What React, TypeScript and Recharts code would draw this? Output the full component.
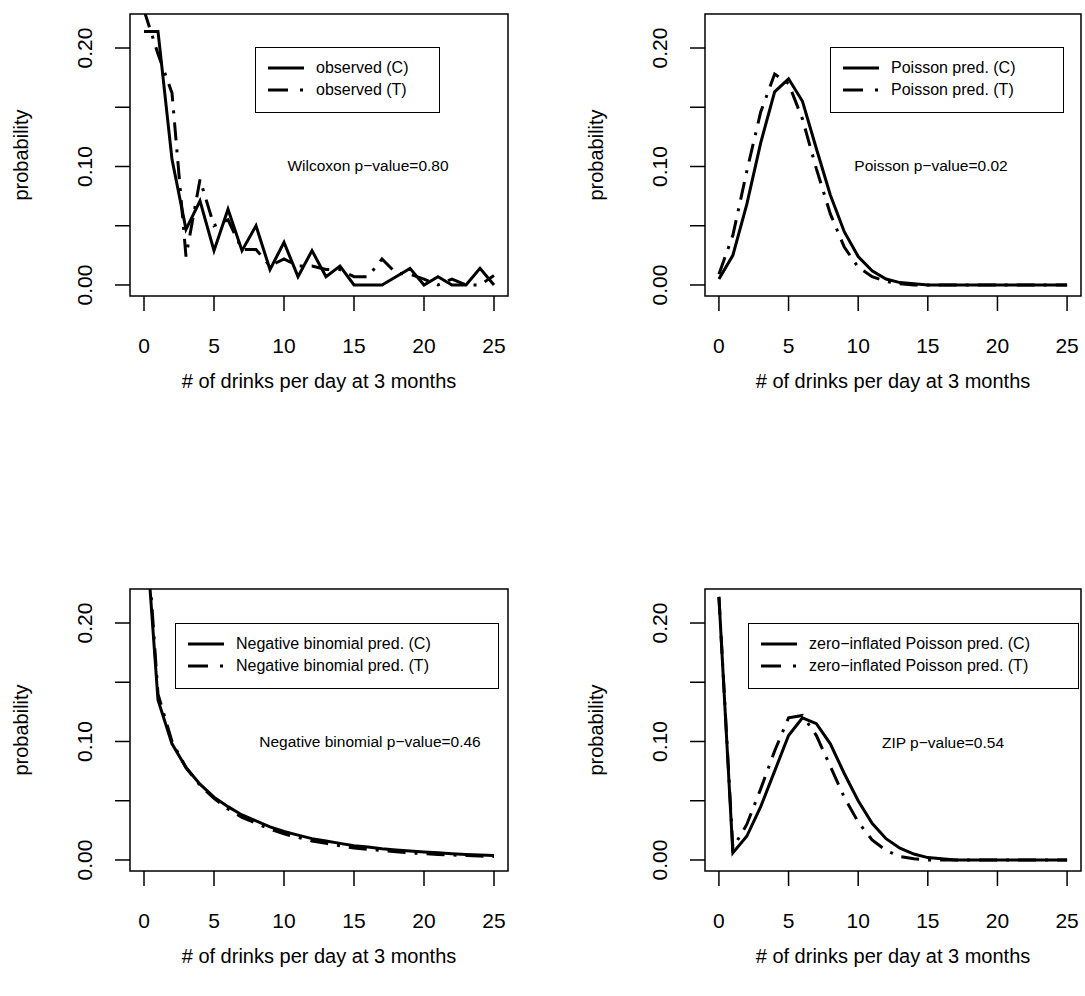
import { LineChart, Line, XAxis, YAxis, ReferenceArea } from 'recharts';

const drinks = [0, 1, 2, 3, 4, 5, 6, 7, 8, 9, 10, 11, 12, 13, 14, 15, 16, 17, 18, 19, 20, 21, 22, 23, 24, 25];

const observedC = [0.214, 0.214, 0.106, 0.047, 0.071, 0.029, 0.064, 0.029, 0.05, 0.013, 0.036, 0.007, 0.029, 0.007, 0.016, 0, 0, 0, 0.007, 0.014, 0, 0.007, 0, 0, 0.014, 0];
const observedT = [0.232, 0.195, 0.162, 0.024, 0.089, 0.05, 0.055, 0.03, 0.03, 0.016, 0.022, 0.016, 0.016, 0.013, 0.013, 0.007, 0.007, 0.022, 0.01, 0.009, 0.005, 0, 0.005, 0, 0, 0.008];

const poissonC = [0.005, 0.025, 0.068, 0.12, 0.163, 0.174, 0.155, 0.115, 0.076, 0.045, 0.024, 0.012, 0.005, 0.002, 0.001, 0, 0, 0, 0, 0, 0, 0, 0, 0, 0, 0];
const poissonT = [0.009, 0.042, 0.096, 0.146, 0.178, 0.17, 0.14, 0.098, 0.06, 0.032, 0.015, 0.007, 0.003, 0.001, 0, 0, 0, 0, 0, 0, 0, 0, 0, 0, 0, 0];

const negbinC = [0.3, 0.135, 0.098, 0.078, 0.064, 0.053, 0.045, 0.038, 0.033, 0.028, 0.024, 0.021, 0.018, 0.016, 0.014, 0.012, 0.011, 0.0095, 0.0085, 0.0075, 0.0067, 0.006, 0.0053, 0.0047, 0.0042, 0.0037];
const negbinT = [0.31, 0.14, 0.1, 0.078, 0.063, 0.052, 0.043, 0.036, 0.031, 0.026, 0.022, 0.019, 0.016, 0.014, 0.012, 0.01, 0.009, 0.008, 0.007, 0.006, 0.0053, 0.0047, 0.0042, 0.0037, 0.0033, 0.003];

const zipC = [0.222, 0.006, 0.02, 0.045, 0.075, 0.105, 0.12, 0.115, 0.098, 0.073, 0.05, 0.031, 0.018, 0.01, 0.005, 0.002, 0.001, 0, 0, 0, 0, 0, 0, 0, 0, 0];
const zipT = [0.222, 0.01, 0.03, 0.06, 0.092, 0.12, 0.122, 0.105, 0.079, 0.053, 0.032, 0.017, 0.008, 0.003, 0.001, 0, 0, 0, 0, 0, 0, 0, 0, 0, 0, 0];

const xTicks = [0, 5, 10, 15, 20, 25];
const yTicks = [0, 0.05, 0.1, 0.15, 0.2];
const yLabels: Record<string, string> = { '0': '0.00', '0.1': '0.10', '0.2': '0.20' };

const FONT = 'Liberation Sans, Arial, sans-serif';
const DASH = '18 9 3 9';
const Y_MIN = -0.0093;
const Y_MAX = 0.2287;

function XTick({ x, y, payload }: any) {
  return (
    <text x={x} y={y + 40} textAnchor="middle" fontSize={21} fontFamily={FONT} fill="#000">
      {payload.value}
    </text>
  );
}

function YTick({ x, y, payload }: any) {
  const label = yLabels[String(payload.value)] ?? '';
  return (
    <text x={x - 21} y={y} textAnchor="middle" fontSize={21} fontFamily={FONT} fill="#000"
      transform={`rotate(-90, ${x - 21}, ${y})`}>
      {label}
    </text>
  );
}

function YTitle({ viewBox }: any) {
  const cx = 28;
  const cy = viewBox.y + viewBox.height / 2;
  return (
    <text x={cx} y={cy} textAnchor="middle" fontSize={20} fontFamily={FONT} fill="#000"
      transform={`rotate(-90, ${cx}, ${cy})`}>
      probability
    </text>
  );
}

function XTitle({ viewBox }: any) {
  return (
    <text x={viewBox.x + viewBox.width / 2} y={viewBox.y + 92} textAnchor="middle" fontSize={20} fontFamily={FONT} fill="#000">
      # of drinks per day at 3 months
    </text>
  );
}

type PanelProps = {
  boxLeft: number;
  boxTop: number;
  boxWidth: number;
  c: number[];
  t: number[];
  names: [string, string];
  legend: { left: number; top: number; width: number };
  note: { text: string; x: number; y: number };
};

function Panel({ boxLeft, boxTop, boxWidth, c, t, names, legend, note }: PanelProps) {
  const data = drinks.map((d, i) => ({ d, c: c[i], t: t[i] }));
  const boxH = 282;
  return (
    <>
      <div style={{ position: 'absolute', left: boxLeft - 130, top: boxTop - 14 }}>
        <LineChart width={130 + boxWidth + 6} height={14 + boxH + 110} data={data}
          margin={{ top: 14, right: 6, left: 0, bottom: 0 }}>
          <XAxis dataKey="d" type="number" domain={[-1, 26]} ticks={xTicks} height={110}
            axisLine={false} tickSize={15} tickLine={{ stroke: '#000', strokeWidth: 1.5 }}
            tick={<XTick />} interval={0} label={<XTitle />} />
          <YAxis type="number" domain={[Y_MIN, Y_MAX]} ticks={yTicks} width={130} allowDataOverflow
            axisLine={false} tickSize={15} tickLine={{ stroke: '#000', strokeWidth: 1.5 }}
            tick={<YTick />} interval={0} label={<YTitle />} />
          <ReferenceArea x1={-1} x2={26} y1={Y_MIN} y2={Y_MAX} fill="none" stroke="#000" strokeWidth={1.5} fillOpacity={0} />
          <Line dataKey="c" stroke="#000" strokeWidth={3} dot={false} isAnimationActive={false} type="linear" />
          <Line dataKey="t" stroke="#000" strokeWidth={3} strokeDasharray={DASH} dot={false} isAnimationActive={false} type="linear" />
        </LineChart>
      </div>
      <div style={{
        position: 'absolute', left: legend.left, top: legend.top, width: legend.width, height: 66,
        border: '1.5px solid #000', boxSizing: 'border-box', background: '#fff',
        fontFamily: FONT, fontSize: 16, padding: '9px 0 0 10px',
      }}>
        {names.map((n, i) => (
          <div key={n} style={{ display: 'flex', alignItems: 'center', height: 22 }}>
            <svg width={40} height={10} style={{ marginRight: 10 }}>
              <line x1={2} y1={5} x2={38} y2={5} stroke="#000" strokeWidth={3}
                strokeDasharray={i === 0 ? undefined : '20 12 3 10'} />
            </svg>
            <span>{n}</span>
          </div>
        ))}
      </div>
      <div style={{
        position: 'absolute', left: note.x, top: note.y, transform: 'translate(-50%, -50%)',
        fontFamily: FONT, fontSize: 15.5, whiteSpace: 'nowrap',
      }}>
        {note.text}
      </div>
    </>
  );
}

export default function App() {
  return (
    <div style={{ position: 'absolute', left: 0, top: 0, width: 1085, height: 996, background: '#fff' }}>
      <Panel boxLeft={130} boxTop={14} boxWidth={378} c={observedC} t={observedT}
        names={['observed (C)', 'observed (T)']}
        legend={{ left: 255, top: 47, width: 185 }}
        note={{ text: 'Wilcoxon p−value=0.80', x: 368, y: 166 }} />
      <Panel boxLeft={705} boxTop={14} boxWidth={376} c={poissonC} t={poissonT}
        names={['Poisson pred. (C)', 'Poisson pred. (T)']}
        legend={{ left: 830, top: 47, width: 234 }}
        note={{ text: 'Poisson p−value=0.02', x: 931, y: 166 }} />
      <Panel boxLeft={130} boxTop={589} boxWidth={378} c={negbinC} t={negbinT}
        names={['Negative binomial pred. (C)', 'Negative binomial pred. (T)']}
        legend={{ left: 175, top: 623, width: 324 }}
        note={{ text: 'Negative binomial p−value=0.46', x: 370, y: 742 }} />
      <Panel boxLeft={705} boxTop={589} boxWidth={376} c={zipC} t={zipT}
        names={['zero−inflated Poisson pred. (C)', 'zero−inflated Poisson pred. (T)']}
        legend={{ left: 748, top: 623, width: 331 }}
        note={{ text: 'ZIP p−value=0.54', x: 943, y: 743 }} />
    </div>
  );
}
